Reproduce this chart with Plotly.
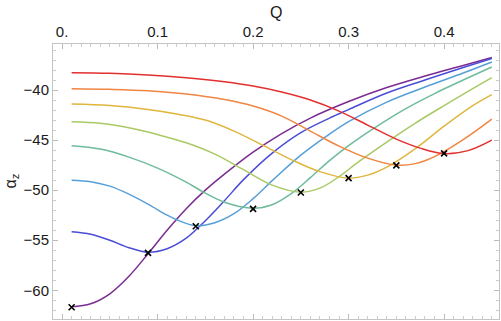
import plotly.graph_objects as go

# -----------------------------
# DATA
# -----------------------------
q_purple = [0.01, 0.03, 0.05, 0.07, 0.09, 0.11, 0.13, 0.15, 0.17, 0.2, 0.23, 0.26, 0.3, 0.34, 0.38, 0.42, 0.45]
a_purple = [-61.65, -61.35, -60.35, -58.6, -56.35, -54.0, -51.85, -50.0, -48.4, -46.2, -44.35, -42.8, -41.15, -39.75, -38.6, -37.55, -36.75]

q_blue = [0.01, 0.03, 0.05, 0.07, 0.09, 0.11, 0.13, 0.15, 0.17, 0.19, 0.22, 0.25, 0.28, 0.3, 0.34, 0.38, 0.42, 0.45]
a_blue = [-54.15, -54.4, -55.0, -55.75, -56.2, -55.85, -54.8, -53.05, -51.05, -48.95, -46.3, -44.25, -42.8, -41.95, -40.3, -39.0, -37.75, -36.85]

q_lblue = [0.01, 0.03, 0.05, 0.07, 0.09, 0.11, 0.12, 0.14, 0.16, 0.18, 0.2, 0.22, 0.25, 0.28, 0.3, 0.34, 0.38, 0.42, 0.45]
a_lblue = [-49.0, -49.15, -49.6, -50.4, -51.4, -52.5, -52.95, -53.55, -53.25, -52.35, -50.85, -49.05, -46.5, -44.4, -43.15, -41.2, -39.7, -38.3, -37.2]

q_teal = [0.01, 0.04, 0.07, 0.1, 0.13, 0.15, 0.17, 0.2, 0.22, 0.24, 0.26, 0.28, 0.3, 0.33, 0.36, 0.39, 0.42, 0.45]
a_teal = [-45.57, -45.9, -46.7, -47.8, -49.2, -50.3, -51.2, -51.8, -51.45, -50.35, -48.75, -47.05, -45.55, -43.6, -41.85, -40.35, -39.0, -37.7]

q_ygreen = [0.01, 0.04, 0.07, 0.1, 0.13, 0.16, 0.19, 0.22, 0.25, 0.27, 0.29, 0.31, 0.34, 0.37, 0.4, 0.43, 0.45]
a_ygreen = [-43.17, -43.32, -43.77, -44.45, -45.27, -46.4, -47.95, -49.5, -50.2, -49.8, -48.65, -47.2, -45.2, -43.3, -41.55, -39.85, -38.75]

q_yellow = [0.01, 0.05, 0.09, 0.12, 0.15, 0.18, 0.21, 0.24, 0.27, 0.3, 0.32, 0.34, 0.37, 0.4, 0.43, 0.45]
a_yellow = [-41.4, -41.55, -41.95, -42.4, -43.0, -44.1, -45.5, -46.95, -48.15, -48.8, -48.5, -47.7, -45.85, -43.6, -41.55, -40.45]

q_orange = [0.01, 0.05, 0.09, 0.13, 0.17, 0.2, 0.23, 0.26, 0.29, 0.32, 0.35, 0.37, 0.39, 0.42, 0.45]
a_orange = [-39.87, -39.93, -40.07, -40.4, -40.95, -41.6, -42.6, -44.1, -45.6, -46.8, -47.5, -47.35, -46.65, -44.95, -42.9]

q_red = [0.01, 0.05, 0.09, 0.13, 0.17, 0.2, 0.23, 0.26, 0.29, 0.32, 0.35, 0.375, 0.4, 0.425, 0.45]
a_red = [-38.27, -38.33, -38.5, -38.78, -39.18, -39.6, -40.2, -41.0, -42.1, -43.5, -44.9, -45.8, -46.35, -46.05, -45.0]

# minima (x marks)
q_min = [0.01, 0.09, 0.14, 0.2, 0.25, 0.3, 0.35, 0.4]
a_min = [-61.7, -56.27, -53.6, -51.87, -50.23, -48.8, -47.53, -46.33]

x_tickvals = [0, 0.1, 0.2, 0.3, 0.4]
x_ticktext = ["0.", "0.1", "0.2", "0.3", "0.4"]
y_tickvals = [-60, -55, -50, -45, -40]
y_ticktext = ["\u221260", "\u221255", "\u221250", "\u221245", "\u221240"]

curves = [
    (q_purple, a_purple, "#7b2c92"),
    (q_blue, a_blue, "#4a4dd6"),
    (q_lblue, a_lblue, "#579fd8"),
    (q_teal, a_teal, "#6fbb9c"),
    (q_ygreen, a_ygreen, "#a9c964"),
    (q_yellow, a_yellow, "#dfb63e"),
    (q_orange, a_orange, "#ef8642"),
    (q_red, a_red, "#e2302f"),
]

fig = go.Figure()

for qs, als, color in curves:
    fig.add_trace(
        go.Scatter(
            x=qs,
            y=als,
            mode="lines",
            line=dict(color=color, width=1.5, shape="spline", smoothing=1.0),
            showlegend=False,
            hoverinfo="skip",
        )
    )

fig.add_trace(
    go.Scatter(
        x=q_min,
        y=a_min,
        mode="markers",
        marker=dict(symbol="x-thin", size=6, line=dict(color="black", width=1.6)),
        showlegend=False,
    )
)

fig.update_layout(
    width=501,
    height=321,
    margin=dict(l=53, r=2, t=44, b=2),
    paper_bgcolor="white",
    plot_bgcolor="white",
    font=dict(family="Liberation Sans, Arial, sans-serif", size=15, color="#1a1a1a"),
    annotations=[
        # axis labels
        dict(text="Q", xref="paper", yref="paper", x=0.5, y=1.116,
             xanchor="center", yanchor="middle", showarrow=False,
             font=dict(size=16)),
        dict(text="\u03b1<sub>z</sub>", xref="paper", yref="paper", x=-0.094, y=0.5,
             xanchor="center", yanchor="middle", textangle=-90, showarrow=False,
             font=dict(size=16)),
    ],
)

fig.update_xaxes(
    side="top",
    range=[-0.0095, 0.4575],
    tickvals=x_tickvals,
    ticktext=x_ticktext,
    ticks="inside",
    ticklen=5,
    tickcolor="#bbb",
    minor=dict(dtick=0.01, tick0=0, ticks="inside", ticklen=3, tickcolor="#ccc"),
    showline=True,
    linecolor="#c4c4c4",
    linewidth=1,
    mirror="ticks",
    showgrid=False,
    zeroline=False,
    automargin=False,
)

fig.update_yaxes(
    range=[-62.87, -35.4],
    tickvals=y_tickvals,
    ticktext=y_ticktext,
    ticks="inside",
    ticklen=5,
    tickcolor="#bbb",
    minor=dict(dtick=1, tick0=-60, ticks="inside", ticklen=3, tickcolor="#ccc"),
    showline=True,
    linecolor="#c4c4c4",
    linewidth=1,
    mirror="ticks",
    showgrid=False,
    zeroline=False,
    automargin=False,
)

# the page body has a default 8px margin; drop it so the chart sits at 0,0
fig.write_html(
    "out.html",
    config={"displayModeBar": False},
    post_script="document.body.style.margin='0';",
)
